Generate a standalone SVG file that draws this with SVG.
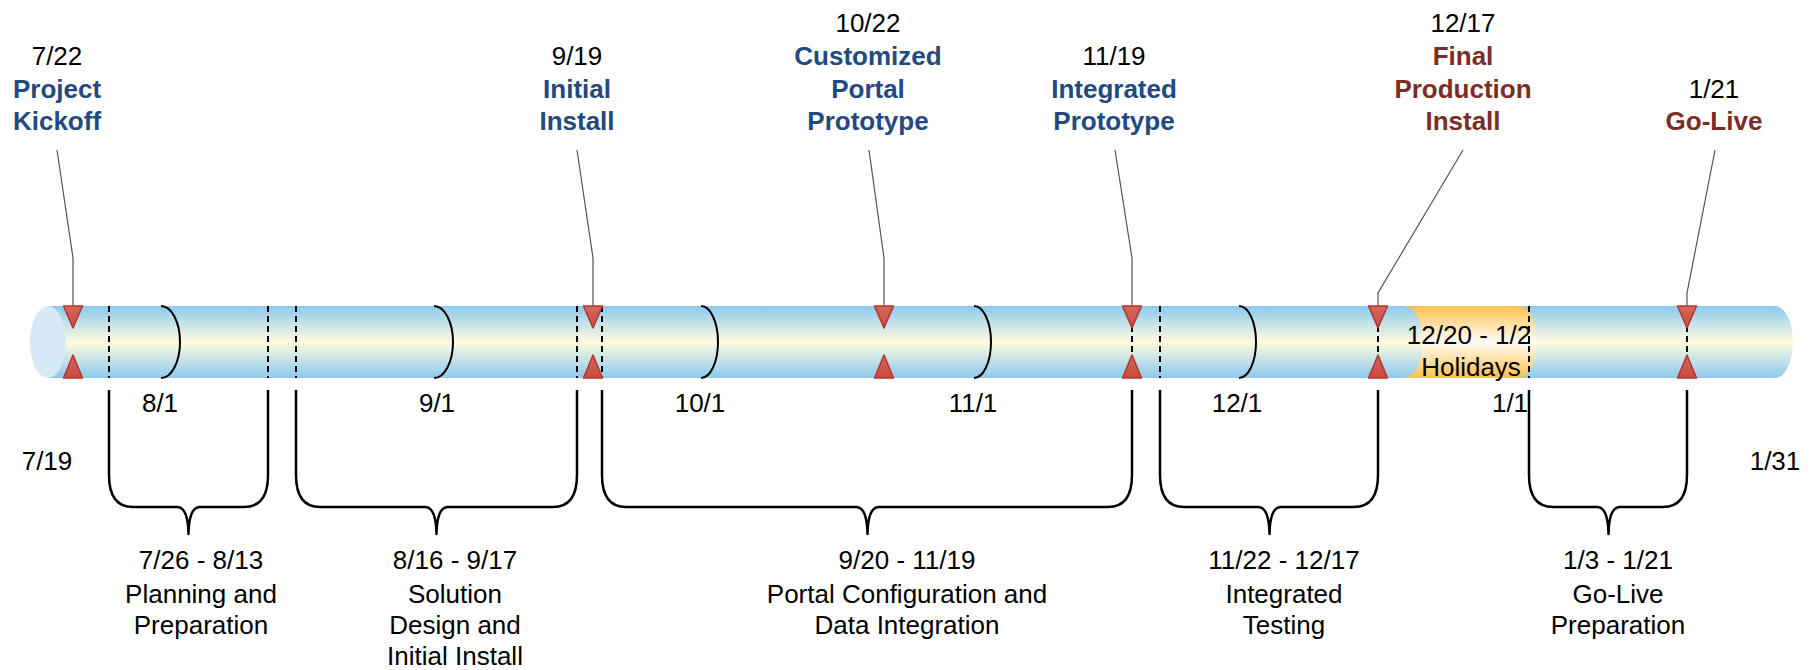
<svg xmlns="http://www.w3.org/2000/svg" width="1820" height="670" viewBox="0 0 1820 670">
<defs>
<linearGradient id="gTube" x1="0" y1="0" x2="0" y2="1">
<stop offset="0" stop-color="#8CC9EF"/>
<stop offset="0.5" stop-color="#FFFBDE"/>
<stop offset="1" stop-color="#8CC9EF"/>
</linearGradient>
<linearGradient id="gHol" x1="0" y1="0" x2="0" y2="1">
<stop offset="0" stop-color="#FFC04F"/>
<stop offset="0.5" stop-color="#FFFDF8"/>
<stop offset="1" stop-color="#FFC04F"/>
</linearGradient>
<linearGradient id="gTri" x1="0" y1="0" x2="0" y2="1">
<stop offset="0" stop-color="#D8665C"/>
<stop offset="1" stop-color="#C84A40"/>
</linearGradient>
</defs>
<style>
text{font-family:"Liberation Sans",Arial,sans-serif;font-size:26px;text-anchor:middle;fill:#000}
.b{font-weight:bold;fill:#23497F}
.r{font-weight:bold;fill:#7B2C28}
.dash{stroke:#000;stroke-width:2;stroke-dasharray:6 4;fill:none}
.arc{stroke:#000;stroke-width:2;fill:none}
.tri{fill:url(#gTri);stroke:#B2362D;stroke-width:1.5;stroke-linejoin:round}
.brace{stroke:#000;stroke-width:2.5;fill:none;stroke-linejoin:round}
.call{stroke:#555;stroke-width:1.2;fill:none}
</style>

<g id="tube">
<path d="M48,306 H1775 A18,36 0 0 1 1775,378 H48 Z" fill="url(#gTube)"/>
<ellipse cx="48" cy="342" rx="18" ry="36" fill="#D5EAF6"/>
</g>

<g id="holidays">
<path d="M1403,306 H1519 A18,36 0 0 1 1519,378 H1403 A20,36 0 0 0 1403,306 Z" fill="url(#gHol)"/>
<text x="1469" y="344">12/20 - 1/2</text>
<text x="1471" y="376">Holidays</text>
</g>

<g id="months">
<path class="arc" d="M161,306 A19,36 0 0 1 161,378"/>
<path class="arc" d="M434,306 A19,36 0 0 1 434,378"/>
<path class="arc" d="M701,306 A17,36 0 0 1 701,378"/>
<path class="arc" d="M974,306 A17,36 0 0 1 974,378"/>
<path class="arc" d="M1239,306 A17,36 0 0 1 1239,378"/>
<text x="160" y="412">8/1</text>
<text x="437" y="412">9/1</text>
<text x="700" y="412">10/1</text>
<text x="973" y="412">11/1</text>
<text x="1237" y="412">12/1</text>
<text x="1510" y="412">1/1</text>
<text x="47" y="470">7/19</text>
<text x="1775" y="470">1/31</text>
</g>

<g id="dividers">
<line class="dash" x1="109" y1="306" x2="109" y2="378"/>
<line class="dash" x1="268" y1="306" x2="268" y2="378"/>
<line class="dash" x1="296" y1="306" x2="296" y2="378"/>
<line class="dash" x1="577" y1="306" x2="577" y2="378"/>
<line class="dash" x1="602" y1="306" x2="602" y2="378"/>
<line class="dash" x1="1132" y1="306" x2="1132" y2="378"/>
<line class="dash" x1="1160" y1="306" x2="1160" y2="378"/>
<line class="dash" x1="1378" y1="306" x2="1378" y2="378"/>
<line class="dash" x1="1529" y1="306" x2="1529" y2="378"/>
<line class="dash" x1="1687" y1="306" x2="1687" y2="378"/>
</g>

<g id="connectors">
<polyline class="call" points="57,150 73,258 73,306"/>
<polyline class="call" points="577,150 593,258 593,306"/>
<polyline class="call" points="869,150 884,258 884,306"/>
<polyline class="call" points="1115,150 1132,258 1132,306"/>
<polyline class="call" points="1463,150 1378,293 1378,306"/>
<polyline class="call" points="1715,150 1687,293 1687,306"/>
</g>

<g id="m-kickoff">
<polygon class="tri" points="63.5,306 82.5,306 73,328"/>
<polygon class="tri" points="63.5,378 82.5,378 73,355"/>
<text x="57" y="65">7/22</text>
<text class="b" x="57" y="98">Project</text>
<text class="b" x="57" y="130">Kickoff</text>
</g>
<g id="m-initial">
<polygon class="tri" points="583.5,306 602.5,306 593,328"/>
<polygon class="tri" points="583.5,378 602.5,378 593,355"/>
<text x="577" y="65">9/19</text>
<text class="b" x="577" y="98">Initial</text>
<text class="b" x="577" y="130">Install</text>
</g>
<g id="m-portal">
<polygon class="tri" points="874.5,306 893.5,306 884,328"/>
<polygon class="tri" points="874.5,378 893.5,378 884,355"/>
<text x="868" y="32">10/22</text>
<text class="b" x="868" y="65">Customized</text>
<text class="b" x="868" y="98">Portal</text>
<text class="b" x="868" y="130">Prototype</text>
</g>
<g id="m-integrated">
<polygon class="tri" points="1122.5,306 1141.5,306 1132,328"/>
<polygon class="tri" points="1122.5,378 1141.5,378 1132,355"/>
<text x="1114" y="65">11/19</text>
<text class="b" x="1114" y="98">Integrated</text>
<text class="b" x="1114" y="130">Prototype</text>
</g>
<g id="m-final">
<polygon class="tri" points="1368.5,306 1387.5,306 1378,328"/>
<polygon class="tri" points="1368.5,378 1387.5,378 1378,355"/>
<text x="1463" y="32">12/17</text>
<text class="r" x="1463" y="65">Final</text>
<text class="r" x="1463" y="98">Production</text>
<text class="r" x="1463" y="130">Install</text>
</g>
<g id="m-golive">
<polygon class="tri" points="1677.5,306 1696.5,306 1687,328"/>
<polygon class="tri" points="1677.5,378 1696.5,378 1687,355"/>
<text x="1714" y="98">1/21</text>
<text class="r" x="1714" y="130">Go-Live</text>
</g>

<g id="p-planning">
<path class="brace" d="M109,390 V475 Q109,507 133,507 H177 Q188,507 188.5,534 Q189,507 200,507 H244 Q268,507 268,475 V390"/>
<text x="201" y="569">7/26 - 8/13</text>
<text x="201" y="603">Planning and</text>
<text x="201" y="634">Preparation</text>
</g>
<g id="p-design">
<path class="brace" d="M296,390 V475 Q296,507 320,507 H425 Q436,507 436.5,534 Q437,507 448,507 H553 Q577,507 577,475 V390"/>
<text x="455" y="569">8/16 - 9/17</text>
<text x="455" y="603">Solution</text>
<text x="455" y="634">Design and</text>
<text x="455" y="665">Initial Install</text>
</g>
<g id="p-portal">
<path class="brace" d="M602,390 V475 Q602,507 626,507 H856 Q867,507 867.5,534 Q868,507 879,507 H1108 Q1132,507 1132,475 V390"/>
<text x="907" y="569">9/20 - 11/19</text>
<text x="907" y="603">Portal Configuration and</text>
<text x="907" y="634">Data Integration</text>
</g>
<g id="p-testing">
<path class="brace" d="M1160,390 V475 Q1160,507 1184,507 H1258 Q1269,507 1269.5,534 Q1270,507 1281,507 H1354 Q1378,507 1378,475 V390"/>
<text x="1284" y="569">11/22 - 12/17</text>
<text x="1284" y="603">Integrated</text>
<text x="1284" y="634">Testing</text>
</g>
<g id="p-golive">
<path class="brace" d="M1529,390 V475 Q1529,507 1553,507 H1597 Q1608,507 1608.5,534 Q1609,507 1620,507 H1663 Q1687,507 1687,475 V390"/>
<text x="1618" y="569">1/3 - 1/21</text>
<text x="1618" y="603">Go-Live</text>
<text x="1618" y="634">Preparation</text>
</g>
</svg>
